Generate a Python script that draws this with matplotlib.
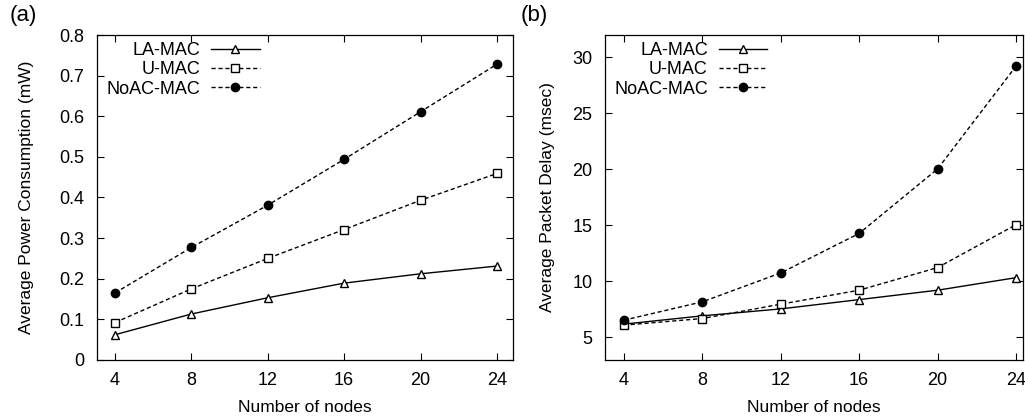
import matplotlib
matplotlib.use("Agg")
import matplotlib.pyplot as plt

plt.rcParams['font.family'] = ['Liberation Sans', 'DejaVu Sans']

nodes = [4, 8, 12, 16, 20, 24]

# (a) average power consumption, mW
power_la = [0.062, 0.113, 0.153, 0.189, 0.212, 0.231]
power_u = [0.092, 0.175, 0.250, 0.321, 0.393, 0.459]
power_noac = [0.165, 0.277, 0.381, 0.494, 0.611, 0.728]

# (b) average packet delay, msec
delay_la = [6.19, 6.93, 7.55, 8.38, 9.22, 10.34]
delay_u = [6.10, 6.69, 7.97, 9.22, 11.24, 15.07]
delay_noac = [6.54, 8.18, 10.76, 14.29, 20.05, 29.23]

series_names = ['LA-MAC', 'U-MAC', 'NoAC-MAC']


def draw_panel(ax, la, u, noac):
    ax.plot(nodes, la, color='black', lw=1.0, ls='-', marker='^', ms=6,
            mfc='white', mec='black', mew=1.0, label=series_names[0])
    ax.plot(nodes, u, color='black', lw=1.0, ls=(0, (3, 2)), marker='s', ms=6,
            mfc='white', mec='black', mew=1.0, label=series_names[1])
    ax.plot(nodes, noac, color='black', lw=1.0, ls=(0, (3, 2)), marker='o', ms=6,
            mfc='black', mec='black', label=series_names[2])
    ax.set_xticks(nodes)
    ax.tick_params(direction='in', top=True, right=True, length=5, width=0.8,
                   labelsize=13, pad=9)
    ax.set_xlabel('Number of nodes', fontsize=12.5, labelpad=8)
    for s in ax.spines.values():
        s.set_linewidth(0.9)
    ax.legend(loc='upper left', frameon=False, markerfirst=False, fontsize=13,
              handlelength=2.7, handletextpad=0.6, labelspacing=0.12,
              borderaxespad=0.0, bbox_to_anchor=(0.005, 1.0))


fig = plt.figure(figsize=(10.25, 4.17), dpi=100)
ax1 = fig.add_axes([0.0946, 0.137, 0.406, 0.779])
ax2 = fig.add_axes([0.590, 0.137, 0.408, 0.779])

draw_panel(ax1, power_la, power_u, power_noac)
ax1.set_xlim(3.05, 24.85)
ax1.set_ylim(0, 0.8)
ax1.set_yticks([0, 0.1, 0.2, 0.3, 0.4, 0.5, 0.6, 0.7, 0.8])
ax1.set_yticklabels(['0', '0.1', '0.2', '0.3', '0.4', '0.5', '0.6', '0.7', '0.8'])
ax1.set_ylabel('Average Power Consumption (mW)', fontsize=12.5, labelpad=18)

draw_panel(ax2, delay_la, delay_u, delay_noac)
ax2.set_xlim(3.03, 24.35)
ax2.set_ylim(3, 32)
ax2.set_yticks([5, 10, 15, 20, 25, 30])
ax2.set_ylabel('Average Packet Delay (msec)', fontsize=12.5, labelpad=12)

fig.text(0.009, 0.962, '(a)', fontsize=16, va='center', ha='left')
fig.text(0.508, 0.962, '(b)', fontsize=16, va='center', ha='left')

fig.savefig('out.png', dpi=100)
